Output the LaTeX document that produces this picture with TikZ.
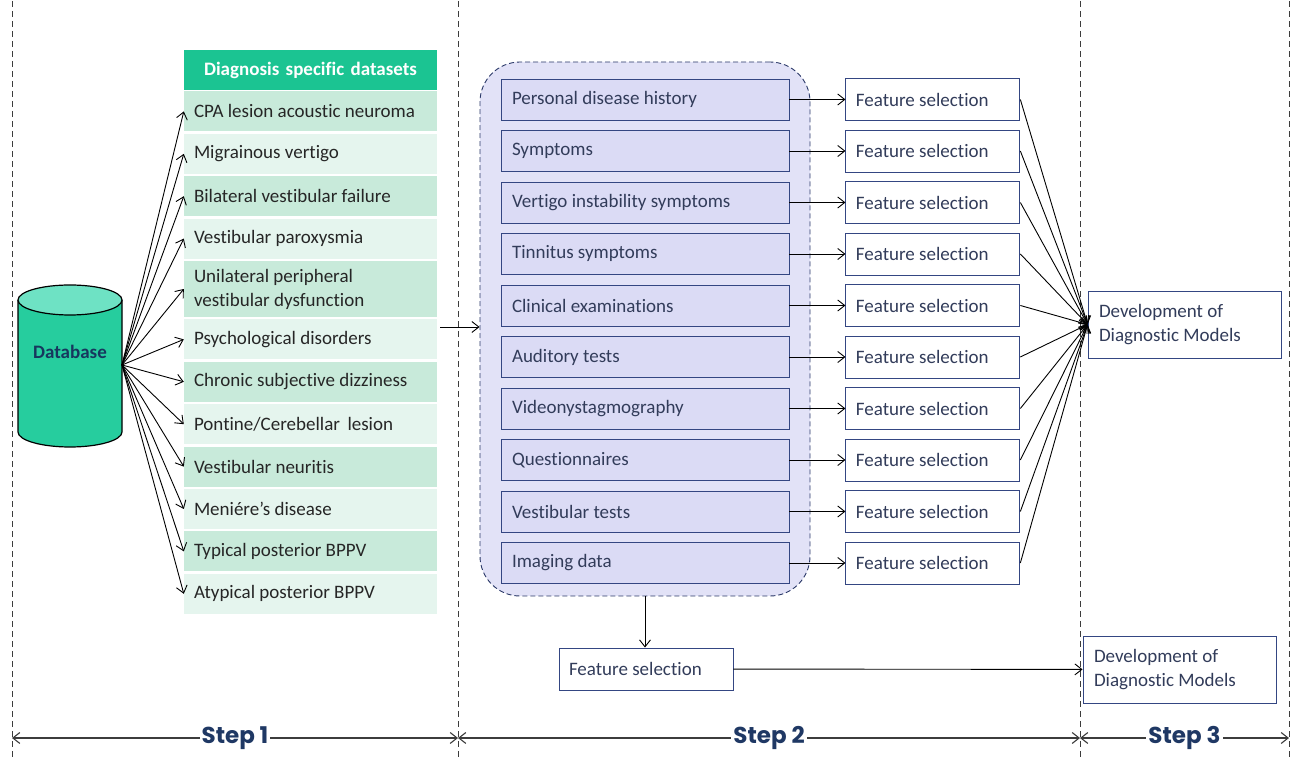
\documentclass[tikz,border=0pt]{standalone}
\usepackage{fontspec}
\setmainfont{Carlito}[Ligatures=NoCommon]
\newfontfamily\stepfont{Poppins}
\usetikzlibrary{positioning, arrows.meta}

\definecolor{dbteal}{RGB}{38,205,158}
\definecolor{dbtop}{RGB}{110,226,196}
\definecolor{dbtext}{RGB}{23,55,94}
\definecolor{hdteal}{RGB}{27,196,146}
\definecolor{rowdark}{RGB}{200,234,218}
\definecolor{rowlight}{RGB}{229,245,238}
\definecolor{panelfill}{RGB}{226,226,247}
\definecolor{boxfill}{RGB}{219,219,245}
\definecolor{boxline}{RGB}{52,70,130}
\definecolor{navytext}{RGB}{50,60,90}
\definecolor{steptext}{RGB}{31,56,100}
\definecolor{guide}{RGB}{60,60,60}

\tikzset{
    dsrow/.style={shape=rectangle,text width=233pt,inner xsep=10pt,inner ysep=0pt,minimum height=40pt,align=flush left,text=black!85},
    hdr/.style={dsrow,fill=hdteal,text=white,font=\fontsize{19}{24}\selectfont\bfseries,align=center},
    srcbox/.style={shape=rectangle,draw=boxline,fill=boxfill,line width=0.9pt,text width=266pt,inner xsep=11pt,inner ysep=0pt,minimum height=41pt,align=flush left,text=navytext},
    fsbox/.style={shape=rectangle,draw=boxline,fill=white,line width=0.9pt,text width=154pt,inner xsep=10pt,inner ysep=0pt,minimum height=42pt,align=flush left,text=navytext},
    devbox/.style={shape=rectangle,draw=boxline,fill=white,line width=0.9pt,text width=171pt,inner xsep=11pt,inner ysep=0pt,minimum height=67pt,align=flush left,text=navytext},
    guideline/.style={draw=guide,line width=0.9pt,dash pattern=on 6pt off 4pt},
    steplabel/.style={fill=white,inner sep=2pt,text=steptext,font=\stepfont\bfseries\fontsize{23}{26}\selectfont},
  }

\begin{document}
\begin{tikzpicture}[x=1pt,y=1pt,>={Straight Barb[length=7pt,width=11pt]},node distance=2pt,font=\fontsize{19}{24}\selectfont]
    \useasboundingbox (0,0) rectangle (1291,757);
    % step borders
    \foreach \x in {12,458,1080,1289} \draw[guideline] (\x,0) -- (\x,757);
    \coordinate (s0) at (12,19);
    \coordinate (s1) at (458,19);
    \coordinate (s2) at (1080,19);
    \coordinate (s3) at (1289,19);
    \draw[<->,draw=guide,line width=1.1pt] (s0) -- node[steplabel] {Step 1} (s1);
    \draw[<->,draw=guide,line width=1.1pt] (s1) -- node[steplabel] {Step 2} (s2);
    \draw[<->,draw=guide,line width=1.1pt] (s2) -- node[steplabel] {Step 3} (s3);

    % database
    \fill[dbteal] (18,457) -- (18,325) arc[start angle=180,end angle=360,x radius=52pt,y radius=15pt] -- (122,457) -- cycle;
    \draw[line width=1.2pt] (18,457) -- (18,325) arc[start angle=180,end angle=360,x radius=52pt,y radius=15pt] -- (122,457);
    \draw[line width=1.2pt,fill=dbtop] (70,457) ellipse[x radius=52pt,y radius=15pt];
    \node[text=dbtext,font=\fontsize{19}{22}\selectfont\bfseries] (db) at (70,405) {Database};
    \coordinate (dbport) at (122,392);

    % step 1: diagnosis specific datasets
    \node[hdr] (hd) at (310.5,687) {Diagnosis specific datasets};
    \node[dsrow,fill=rowdark,below=1pt of hd] (d1) {CPA lesion acoustic neuroma};
    \node[dsrow,fill=rowlight,below=of d1] (d2) {Migrainous vertigo};
    \node[dsrow,fill=rowdark,below=of d2] (d3) {Bilateral vestibular failure};
    \node[dsrow,fill=rowlight,below=of d3] (d4) {Vestibular paroxysmia};
    \node[dsrow,fill=rowdark,below=of d4,minimum height=56pt] (d5) {Unilateral peripheral\\vestibular dysfunction};
    \node[dsrow,fill=rowlight,below=of d5] (d6) {Psychological disorders};
    \node[dsrow,fill=rowdark,below=of d6] (d7) {Chronic subjective dizziness};
    \node[dsrow,fill=rowlight,below=of d7] (d8) {Pontine/Cerebellar\, lesion};
    \node[dsrow,fill=rowdark,below=of d8] (d9) {Vestibular neuritis};
    \node[dsrow,fill=rowlight,below=of d9] (d10) {Meni\'ere’s disease};
    \node[dsrow,fill=rowdark,below=of d10] (d11) {Typical posterior BPPV};
    \node[dsrow,fill=rowlight,below=of d11] (d12) {Atypical posterior BPPV};
    \foreach \i in {1,...,12} \draw[->,line width=0.9pt] (dbport) -- (d\i.west);

    % step 2: data sources
    \node[draw=boxline!80!black,fill=panelfill,line width=0.9pt,dash pattern=on 5pt off 3pt,rounded corners=40pt,minimum width=330pt,minimum height=534pt] (panel) at (645,428) {};
    \coordinate (tblout) at (440,430);
    \draw[->,line width=0.9pt] (tblout) -- (tblout -| panel.west);
    \node[srcbox] (b1) at (645,657.5) {Personal disease history};
    \node[srcbox,below=9.6pt of b1] (b2) {Symptoms};
    \node[srcbox,below=9.6pt of b2] (b3) {Vertigo instability symptoms};
    \node[srcbox,below=9.6pt of b3] (b4) {Tinnitus symptoms};
    \node[srcbox,below=9.6pt of b4] (b5) {Clinical examinations};
    \node[srcbox,below=9.6pt of b5] (b6) {Auditory tests};
    \node[srcbox,below=9.6pt of b6] (b7) {Videonystagmography};
    \node[srcbox,below=9.6pt of b7] (b8) {Questionnaires};
    \node[srcbox,below=9.6pt of b8] (b9) {Vestibular tests};
    \node[srcbox,below=9.6pt of b9] (b10) {Imaging data};

    % step 3: models
    \node[devbox] (dev1) at (1184.5,432.5) {Development of\\Diagnostic Models};
    \foreach \i in {1,...,10} {
        \node[fsbox,right=56pt of b\i] (f\i) {Feature selection};
        \draw[->,line width=0.9pt] (b\i) -- (f\i);
        \draw[->,line width=0.9pt] (f\i.east) -- (dev1.west);
    }
    \node[fsbox] (fsall) at (646,88) {Feature selection};
    \node[devbox] (dev2) at (1179.5,87.5) {Development of\\Diagnostic Models};
    \draw[->,line width=0.9pt] (panel.south) -- (panel.south |- fsall.north);
    \draw[->,line width=0.9pt] (fsall) -- (dev2);
\end{tikzpicture}
\end{document}
